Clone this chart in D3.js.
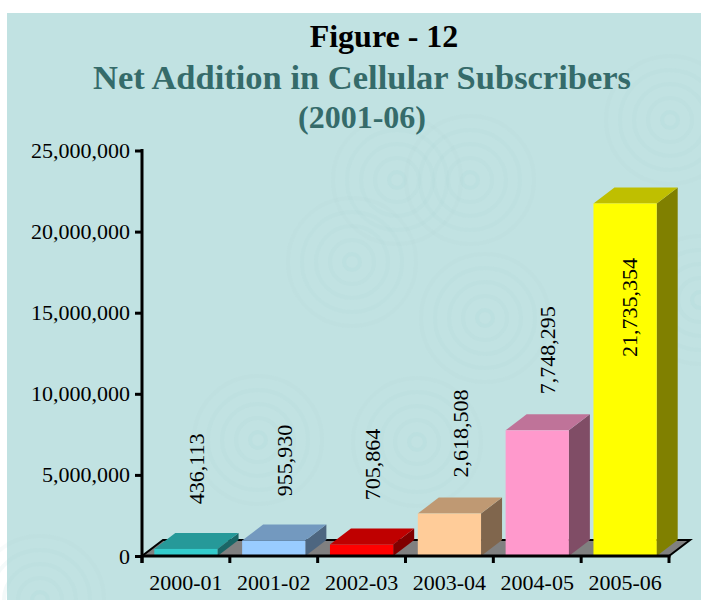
<!DOCTYPE html>
<html>
<head>
<meta charset="utf-8">
<script src="https://cdn.jsdelivr.net/npm/d3@7"></script>
<style>
body { margin: 0; background-color: white; }
text { font-family: "Liberation Serif", "DejaVu Serif", serif; }
</style>
</head>
<body>
<svg id="chart"></svg>
</body>
<script>
var years = ["2000-01", "2001-02", "2002-03", "2003-04", "2004-05", "2005-06"];
var additions = [436113, 955930, 705864, 2618508, 7748295, 21735354];
var barColors = ["#33cccc", "#99ccff", "#ff0000", "#ffcc99", "#ff99cc", "#ffff00"];
var yTicks = [0, 5000000, 10000000, 15000000, 20000000, 25000000];

const width = 701;
const height = 600;
var svg = d3.select("#chart").attr("width", width).attr("height", height);

// background panel with faint ripples
svg.append("rect").attr("x", 7).attr("y", 13)
   .attr("width", width - 7).attr("height", height - 13)
   .attr("fill", "#c1e2e2");

var ripples = [[670, 120], [397, 180], [352, 262], [258, 440], [417, 442], [470, 180], [485, 318], [40, 600], [700, 300]];
var rg = svg.append("g").attr("fill", "none").attr("stroke", "#aed8d8");
ripples.forEach(function(c) {
  for (var r = 8; r <= 64; r += 14) {
    rg.append("circle").attr("cx", c[0]).attr("cy", c[1]).attr("r", r)
      .attr("stroke-width", 4).attr("opacity", 0.22 - r * 0.002);
  }
});

// titles
svg.append("text").attr("x", 384).attr("y", 47).attr("text-anchor", "middle")
   .attr("font-size", 32).attr("font-weight", "bold").attr("fill", "#000")
   .text("Figure - 12");
svg.append("text").attr("x", 362).attr("y", 89).attr("text-anchor", "middle")
   .attr("font-size", 34.5).attr("font-weight", "bold").attr("fill", "#356b6a")
   .text("Net Addition in Cellular Subscribers");
svg.append("text").attr("x", 362).attr("y", 128).attr("text-anchor", "middle")
   .attr("font-size", 32).attr("font-weight", "bold").attr("fill", "#356b6a")
   .text("(2001-06)");

var x0 = 142, x1 = 669, y0 = 556, y1 = 150.5;
var dx = 21, dy = 16;

var xscale = d3.scaleBand().domain(years).range([x0, x1])
               .paddingInner(0.28).paddingOuter(0.14);
var yscale = d3.scaleLinear().domain([0, 25000000]).range([y0, y1]);

function shade(c, k) {
  var col = d3.rgb(c);
  return d3.rgb(col.r * k, col.g * k, col.b * k).formatHex();
}

// floor
svg.append("path")
   .attr("d", "M" + x0 + "," + y0 + "L" + x1 + "," + y0 + "L" + (x1 + dx) + "," + (y0 - dy) +
              "L" + (x0 + dx) + "," + (y0 - dy) + "Z")
   .attr("fill", "#808080").attr("stroke", "#000").attr("stroke-width", 2)
   .attr("stroke-linejoin", "miter");

// bars
var bars = svg.append("g").selectAll("g").data(years).enter().append("g");
bars.each(function(d, i) {
  var g = d3.select(this);
  var bx = xscale(d), bw = xscale.bandwidth();
  var top = yscale(additions[i]);
  g.append("path")
   .attr("d", "M" + (bx + bw) + "," + top + "L" + (bx + bw + dx) + "," + (top - dy) +
              "L" + (bx + bw + dx) + "," + (y0 - dy) + "L" + (bx + bw) + "," + y0 + "Z")
   .attr("fill", shade(barColors[i], 0.5));
  g.append("path")
   .attr("d", "M" + bx + "," + top + "L" + (bx + bw) + "," + top + "L" + (bx + bw + dx) + "," + (top - dy) +
              "L" + (bx + dx) + "," + (top - dy) + "Z")
   .attr("fill", shade(barColors[i], 0.75));
  g.append("rect").attr("x", bx).attr("y", top).attr("width", bw).attr("height", y0 - top)
   .attr("fill", barColors[i]);
});

// axes
var yAxis = svg.append("g").attr("transform", "translate(" + x0 + ",0)")
   .call(d3.axisLeft(yscale).tickValues(yTicks).tickFormat(d3.format(",")).tickSize(7).tickPadding(5));
yAxis.select(".domain").remove();
yAxis.selectAll(".tick line").attr("stroke", "#000").attr("stroke-width", 3);
yAxis.selectAll(".tick text").attr("font-size", 22).attr("fill", "#000")
     .attr("font-family", "Liberation Serif");
svg.append("line").attr("x1", x0).attr("x2", x0).attr("y1", y1 - 1.5).attr("y2", y0 + 7)
   .attr("stroke", "#000").attr("stroke-width", 3);

svg.append("line").attr("x1", x0).attr("x2", x1 + 1.5).attr("y1", y0).attr("y2", y0)
   .attr("stroke", "#000").attr("stroke-width", 3);
var edges = [x0].concat(years.map(function(d) { return xscale(d) + xscale.bandwidth() + xscale.step() * 0.14; }));
svg.append("g").selectAll("line").data(edges).enter().append("line")
   .attr("x1", function(d) { return d; }).attr("x2", function(d) { return d; })
   .attr("y1", y0).attr("y2", y0 + 7)
   .attr("stroke", "#000").attr("stroke-width", 3);

svg.append("g").selectAll("text").data(years).enter().append("text")
   .attr("x", function(d) { return xscale(d) + xscale.bandwidth() / 2; })
   .attr("y", 590).attr("text-anchor", "middle").attr("font-size", 22).attr("fill", "#000")
   .text(function(d) { return d; });

// value labels
svg.append("g").selectAll("text").data(years).enter().append("text")
   .attr("transform", function(d, i) {
     var cx = xscale(d) + xscale.bandwidth() / 2 + dx / 2;
     var cy = yscale(additions[i]) - 80;
     if (cy - 55 < y1) { cy = yscale(additions[i]) + 104; cx -= 6; }
     return "translate(" + cx + "," + cy + ") rotate(-90)";
   })
   .attr("text-anchor", "middle").attr("dy", "0.35em")
   .attr("font-size", 22).attr("fill", "#000")
   .text(function(d, i) { return d3.format(",")(additions[i]); });
</script>
</html>
